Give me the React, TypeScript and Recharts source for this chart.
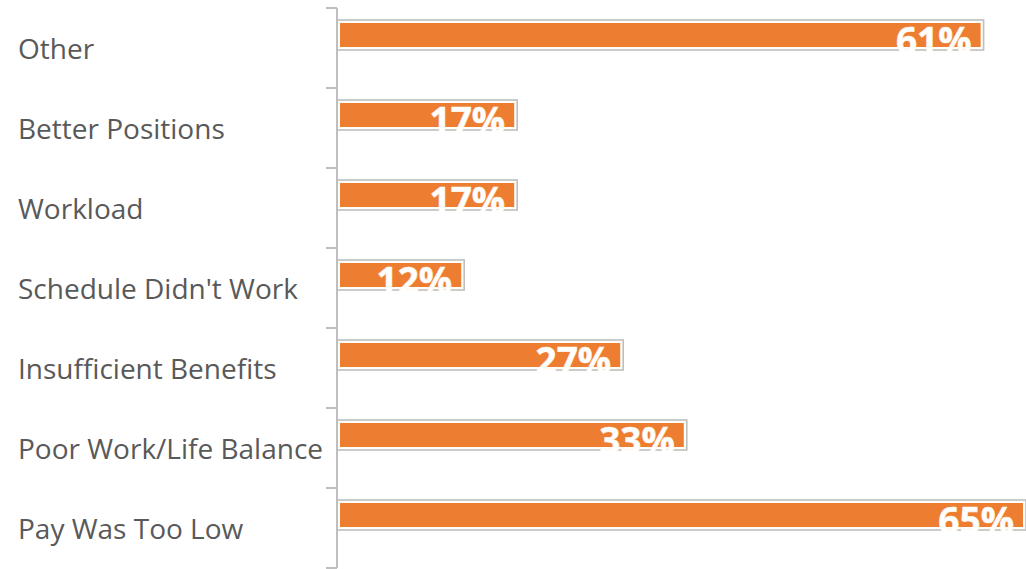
import React from 'react';
import { BarChart, Bar, XAxis, YAxis, LabelList } from 'recharts';

// Reasons for leaving, share of respondents (%)
const reasons = [
  'Other',
  'Better Positions',
  'Workload',
  "Schedule Didn't Work",
  'Insufficient Benefits',
  'Poor Work/Life Balance',
  'Pay Was Too Low',
];
const shares = [61, 17, 17, 12, 27, 33, 65];

const data = reasons.map((name, i) => ({ name, value: shares[i] }));

const ORANGE = '#ED7D31';
const GRID = '#BFBFBF';
const BAR_SIZE = 30;
const BAR_SHIFT = -13; // bars sit in the upper part of each band
const LABEL_X = 18;
const FONT = '"Open Sans", "Noto Sans", sans-serif';

// bar with grey outline, white rim and orange core
const FramedBar = (props: any) => {
  const { x, y, width, height } = props;
  if (!width || width <= 0) return null;
  const top = y + BAR_SHIFT;
  return (
    <g>
      <rect x={x - 1} y={top} width={width + 1} height={height} fill="#FFFDF9" stroke={GRID} strokeWidth={1.6} />
      <rect x={x + 3} y={top + 3} width={Math.max(width - 6, 0)} height={height - 6} fill={ORANGE} />
    </g>
  );
};

// value label at the inner end, clipped to the bar
const ValueLabel = (props: any) => {
  const { x, y, width, height, value, index } = props;
  const top = y + BAR_SHIFT;
  const id = `val-clip-${index}`;
  return (
    <g>
      <defs>
        <clipPath id={id}>
          <rect x={x} y={top} width={width} height={height + 2} />
        </clipPath>
      </defs>
      <text
        x={x + width - 12}
        y={top + 34}
        textAnchor="end"
        clipPath={`url(#${id})`}
        fill="#FFFFFF"
        stroke="#FFF6EC"
        strokeWidth={0.6}
        fontFamily={FONT}
        fontWeight={700}
        fontSize={37}
      >
        {`${value}%`}
      </text>
    </g>
  );
};

// category name at the left plus a tick mark at each band boundary
const CategoryTick = (props: any) => {
  const { y, payload, index } = props;
  const half = 40;
  return (
    <g>
      <line x1={326} x2={337} y1={y - half} y2={y - half} stroke={GRID} strokeWidth={2} />
      {index === reasons.length - 1 && (
        <line x1={326} x2={337} y1={y + half} y2={y + half} stroke={GRID} strokeWidth={2} />
      )}
      <text
        x={LABEL_X}
        y={y}
        dominantBaseline="central"
        textAnchor="start"
        fill="#595959"
        fontFamily={FONT}
        fontSize={28}
      >
        {payload.value}
      </text>
    </g>
  );
};

export default function App() {
  return (
    <div style={{ position: 'absolute', left: 0, top: 0, width: 1026, height: 569, background: '#fff' }}>
      <BarChart
        width={1026}
        height={569}
        data={data}
        layout="vertical"
        margin={{ top: 8, right: 0, bottom: 1, left: 0 }}
        barSize={BAR_SIZE}
      >
        <XAxis type="number" domain={[0, 65]} hide allowDataOverflow />
        <YAxis
          type="category"
          dataKey="name"
          width={337}
          axisLine={{ stroke: GRID, strokeWidth: 2 }}
          tickLine={false}
          tick={<CategoryTick />}
          interval={0}
        />
        <Bar dataKey="value" shape={<FramedBar />} isAnimationActive={false}>
          <LabelList dataKey="value" content={<ValueLabel />} />
        </Bar>
      </BarChart>
    </div>
  );
}
